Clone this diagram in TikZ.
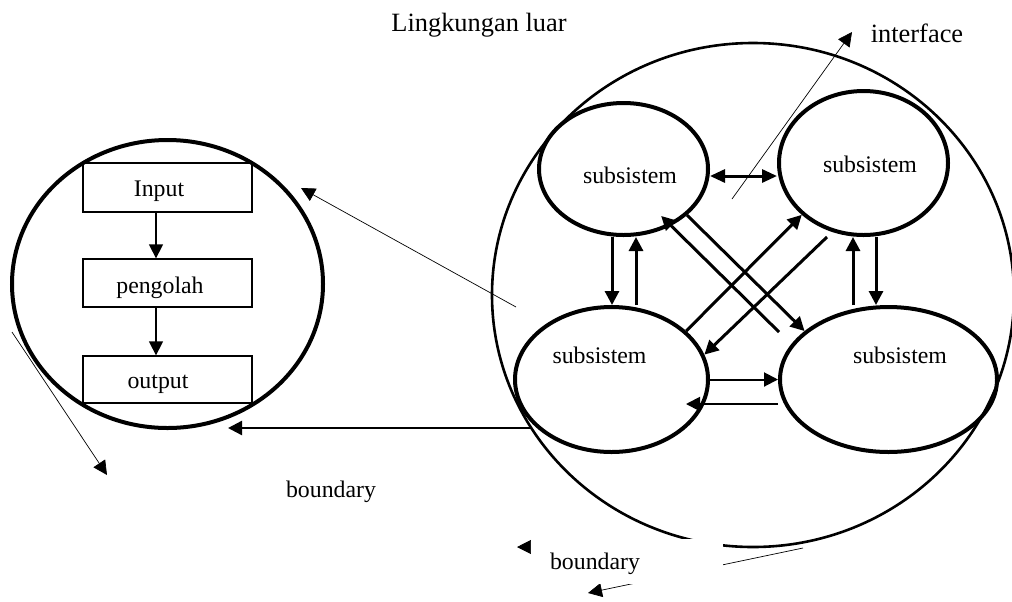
\documentclass[tikz,border=0pt]{standalone}
\usepackage{fontspec}
\setmainfont{Liberation Serif}
\usetikzlibrary{shapes.geometric,arrows.meta}
\tikzset{
  sub/.style={ellipse,draw,line width=2pt,inner sep=0pt},
  blk/.style={rectangle,draw,line width=0.65pt,inner sep=0pt,minimum width=84.5pt},
  txt/.style={anchor=base,inner sep=0pt,font=\fontsize{11.9}{14}\selectfont},
  bigtxt/.style={anchor=base,inner sep=0pt,font=\fontsize{13.2}{15}\selectfont},
  tip/.style={-{Triangle[length=7pt,width=7pt]}},
  flow/.style={tip,line width=0.65pt},
  link/.style={tip,line width=1.5pt},
  hair/.style={tip,line width=0.35pt}
}
\begin{document}
\begin{tikzpicture}[x=0.5pt,y=-0.5pt]
  \useasboundingbox (0,0) rectangle (1012,601);
  \node[bigtxt] (env) at (479,31) {Lingkungan luar};
  \node[bigtxt] (iface) at (917,42) {interface};
  \node[ellipse,draw,line width=1.3pt,inner sep=0pt,minimum width=261pt,minimum height=252pt] (big) at (753,295) {};
  \node[ellipse,draw,line width=2pt,inner sep=0pt,minimum width=155.5pt,minimum height=144pt] (sys) at (167.5,284) {};
  \node[blk,minimum height=24.5pt] (in) at (167.5,187.5) {};
  \node[blk,minimum height=24pt] (proc) at (167.5,283) {};
  \node[blk,minimum height=23.5pt] (out) at (167.5,379.5) {};
  \node[txt] (intxt) at (159,196) {Input};
  \node[txt] (proctxt) at (160,293) {pengolah};
  \node[txt] (outtxt) at (158,388) {output};
  \node[sub,minimum width=84.5pt,minimum height=66pt] (tl) at (623.5,169) {};
  \node[sub,minimum width=84.5pt,minimum height=72pt] (tr) at (863.5,163) {};
  \node[sub,minimum width=96.5pt,minimum height=72.5pt] (bl) at (611.5,379.5) {};
  \node[sub,minimum width=108.5pt,minimum height=72.5pt] (br) at (888.5,379.5) {};
  \node[txt] (tltxt) at (630,183) {subsistem};
  \node[txt] (trtxt) at (870,172) {subsistem};
  \node[txt] (bltxt) at (599.5,363) {subsistem};
  \node[txt] (brtxt) at (900,363) {subsistem};
  \node[txt] (bnd) at (331,497) {boundary};
  \coordinate (trs) at (827,237);
  \coordinate (brs) at (779,332);
  \coordinate (lt) at (228,428);
  \coordinate (ifs) at (732,199);
  \coordinate (ift) at (852,32);
  \coordinate (zs) at (516,307);
  \coordinate (zt) at (301,188);
  \coordinate (ls) at (12,332);
  \coordinate (lte) at (107,475);
  \coordinate (b1) at (650,547);
  \coordinate (b1t) at (517,547);
  \coordinate (b2) at (803,548);
  \coordinate (b2t) at (588,593);
  \begin{scope}[flow]
    \draw ([xshift=-5.75pt]in.south) -- ([xshift=-5.75pt]in.south |- proc.north);
    \draw ([xshift=-5.75pt]proc.south) -- ([xshift=-5.75pt]proc.south |- out.north);
  \end{scope}
  \begin{scope}[link]
    \draw[{Triangle[length=7.5pt,width=6.5pt]}-{Triangle[length=7.5pt,width=6.5pt]}] ([yshift=-3.5pt]tl.east) -- ([yshift=-3.5pt]tl.east -| tr.west);
    \draw ([xshift=-5.75pt]tl.south) -- ([xshift=-5.75pt]tl.south |- bl.north);
    \draw ([xshift=12.25pt]bl.north) -- ([xshift=12.25pt]bl.north |- tl.south);
    \draw ([xshift=-17.75pt]br.north) -- ([xshift=-17.75pt]br.north |- tr.south);
    \draw ([xshift=6.25pt]tr.south) -- ([xshift=6.25pt]tr.south |- br.north);
    \draw (bl.33) -- (tr.220);
    \draw (tl.-36) -- (br.150);
    \draw (trs) -- (bl.15);
    \draw[shorten >=-7pt] (brs) -- (tl.-50);
    \draw[line width=1pt] (bl.east) -- (br.west);
    \draw[line width=1pt] ([yshift=-12.25pt]br.west) -- ([yshift=-12.25pt,xshift=-12pt]bl.east);
    \draw[line width=1.2pt] (lt -| big.211) -- (lt);
  \end{scope}
  \begin{scope}[hair]
    \draw (ifs) -- (ift);
    \draw (zs) -- (zt);
    \draw (ls) -- (lte);
    \draw (b1) -- (b1t);
    \draw (b2) -- (b2t);
  \end{scope}
  \fill[white] (531,539) rectangle (723,584);
  \node[txt] (bnd2) at (595,569) {boundary};
\end{tikzpicture}
\end{document}
